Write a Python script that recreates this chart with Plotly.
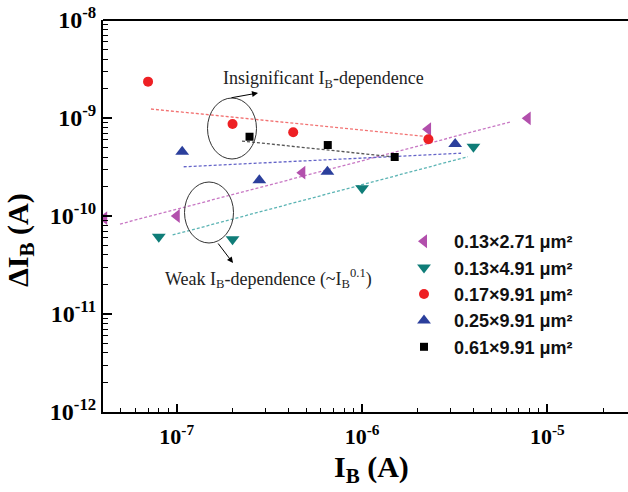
import plotly.graph_objects as go

# ---------------- data ----------------
series_names = ["0.13×2.71 μm²", "0.13×4.91 μm²", "0.17×9.91 μm²", "0.25×9.91 μm²", "0.61×9.91 μm²"]

x_mag = [4.06e-8, 1.0e-7, 4.76e-7, 2.27e-6, 7.83e-6]
y_mag = [9.5e-11, 1.0e-10, 2.77e-10, 7.67e-10, 9.93e-10]
x_teal = [8.0e-8, 2.0e-7, 1.0e-6, 3.99e-6]
y_teal = [6.15e-11, 5.78e-11, 1.92e-10, 5.09e-10]
x_red = [7.0e-8, 2.0e-7, 4.25e-7, 2.28e-6]
y_red = [2.35e-9, 8.7e-10, 7.15e-10, 6.07e-10]
x_blue = [1.07e-7, 2.79e-7, 6.5e-7, 3.18e-6]
y_blue = [4.53e-10, 2.31e-10, 2.83e-10, 5.43e-10]
x_blk = [2.47e-7, 6.53e-7, 1.5e-6]
y_blk = [6.44e-10, 5.3e-10, 4.0e-10]

# fitted trend lines (end points)
fit_mag_x = [4.94e-8, 6.37e-6]
fit_mag_y = [8.28e-11, 9.16e-10]
fit_teal_x = [9.5e-8, 3.72e-6]
fit_teal_y = [6.4e-11, 4.03e-10]
fit_red_x = [7.26e-8, 2.28e-6]
fit_red_y = [1.236e-9, 6.44e-10]
fit_blue_x = [1.09e-7, 3.42e-6]
fit_blue_y = [3.18e-10, 4.37e-10]
fit_blk_x = [2.25e-7, 1.5e-6]
fit_blk_y = [5.82e-10, 4.0e-10]

x_tickvals = [1e-7, 1e-6, 1e-5]
x_ticktext = ["10<sup>-7</sup>", "10<sup>-6</sup>", "10<sup>-5</sup>"]
y_tickvals = [1e-12, 1e-11, 1e-10, 1e-9, 1e-8]
y_ticktext = ["10<sup>-12</sup>", "10<sup>-11</sup>", "10<sup>-10</sup>", "10<sup>-9</sup>", "10<sup>-8</sup>"]

# ---------------- styling ----------------
W, H = 628, 492
ML, MT = 103, 20
PW, PH = W - ML, 392
MB = H - MT - PH

def px(x):
    return (x - ML) / PW

def py(y):
    return (MT + PH - y) / PH

SERIF = "Liberation Serif"
SANS = "Liberation Sans"

fig = go.Figure()

fits = [
    (fit_mag_x, fit_mag_y, "#c878c4"),
    (fit_teal_x, fit_teal_y, "#5cb4b4"),
    (fit_red_x, fit_red_y, "#f27272"),
    (fit_blue_x, fit_blue_y, "#6464c8"),
    (fit_blk_x, fit_blk_y, "#555555"),
]
for fx, fy, c in fits:
    fig.add_trace(go.Scatter(x=fx, y=fy, mode="lines", showlegend=False,
                             line=dict(color=c, width=1.3, dash="3px,2px"),
                             hoverinfo="skip"))

series = [
    (x_mag, y_mag, "triangle-left", "#b24fac", 12),
    (x_teal, y_teal, "triangle-down", "#0f7d78", 12),
    (x_red, y_red, "circle", "#ee2024", 10),
    (x_blue, y_blue, "triangle-up", "#2b3f9c", 12),
    (x_blk, y_blk, "square", "#000000", 8),
]
for (sx, sy, sym, col, sz), name in zip(series, series_names):
    fig.add_trace(go.Scatter(x=sx, y=sy, mode="markers", name=name,
                             marker=dict(symbol=sym, color=col, size=sz,
                                         line=dict(width=0))))

axis_common = dict(
    type="log", showgrid=False, zeroline=False,
    showline=True, linecolor="black", linewidth=2,
    ticks="inside", tickcolor="black", tickwidth=1.5,
    ticklabeloverflow="allow",
)

x_minor = [m * 10 ** e for e in range(-8, -4) for m in range(2, 10)]
y_minor = [m * 10 ** e for e in range(-12, -8) for m in range(2, 10)]

fig.update_xaxes(**axis_common, range=[-7.398, -4.565],
                 tickvals=x_tickvals, ticktext=x_ticktext, ticklen=8,
                 tickfont=dict(family=SERIF, size=22, color="black", weight="bold"),
                 ticklabelstandoff=4,
                 minor=dict(tickvals=x_minor, ticks="inside", ticklen=4,
                            tickcolor="black", tickwidth=1.2))
fig.update_yaxes(**axis_common, range=[-12.0002, -7.9998],
                 tickvals=y_tickvals, ticktext=y_ticktext, ticklen=9,
                 tickfont=dict(family=SERIF, size=24, color="black", weight="bold"),
                 minor=dict(tickvals=y_minor, ticks="inside", ticklen=5,
                            tickcolor="black", tickwidth=1.2))

ann_font = dict(family=SERIF, size=18, color="#222222")
annotations = [
    dict(text="<b>I<sub>B</sub> (A)</b>", xref="paper", yref="paper",
         x=px(371), y=py(469), xanchor="center", yanchor="middle",
         showarrow=False, font=dict(family=SERIF, size=30, color="black")),
    dict(text="<b>ΔI<sub>B</sub> (A)</b>", xref="paper", yref="paper",
         x=px(20), y=py(240), xanchor="center", yanchor="middle",
         textangle=-90, showarrow=False,
         font=dict(family=SERIF, size=30, color="black")),
    dict(text="Insignificant I<sub>B</sub>-dependence", xref="paper", yref="paper",
         x=px(221), y=py(80), xanchor="left", yanchor="middle",
         showarrow=False, font=ann_font),
    dict(text="Weak I<sub>B</sub>-dependence (~I<sub>B</sub><sup>0.1</sup>)",
         xref="paper", yref="paper",
         x=px(163), y=py(278), xanchor="left", yanchor="middle",
         showarrow=False, font=ann_font),
    # arrows
    dict(text="", xref="paper", yref="paper", x=px(258), y=py(93),
         ax=230 - 258, ay=98 - 93, showarrow=True, arrowhead=2,
         arrowsize=1.2, arrowwidth=1, arrowcolor="black"),
    dict(text="", xref="paper", yref="paper", x=px(233), y=py(263),
         ax=217 - 233, ay=242 - 263, showarrow=True, arrowhead=2,
         arrowsize=1.2, arrowwidth=1, arrowcolor="black"),
]

shapes = [
    dict(type="circle", xref="paper", yref="paper",
         x0=px(207.5), x1=px(256.5), y0=py(98), y1=py(159),
         line=dict(color="#333333", width=1)),
    dict(type="circle", xref="paper", yref="paper",
         x0=px(184.5), x1=px(233.5), y0=py(182), y1=py(243),
         line=dict(color="#333333", width=1)),
    # top frame line
    dict(type="line", xref="paper", yref="paper", x0=0, x1=1, y0=1, y1=1,
         layer="above", line=dict(color="black", width=2)),
]

fig.update_layout(
    width=W, height=H,
    margin=dict(l=ML, r=0, t=MT, b=MB, autoexpand=False),
    paper_bgcolor="white", plot_bgcolor="white",
    annotations=annotations, shapes=shapes,
    legend=dict(x=px(394), y=py(223), xanchor="left", yanchor="top",
                bgcolor="rgba(0,0,0,0)",
                font=dict(family=SANS, size=18, color="#111111", weight="bold"),
                itemwidth=50, tracegroupgap=0),
    showlegend=True,
)

page_js = ("document.body.style.margin='0px';"
           "document.documentElement.style.overflow='hidden';"
           "document.body.style.overflow='hidden';")

fig.write_html("out.html", post_script=page_js,
               config={"displayModeBar": False})
